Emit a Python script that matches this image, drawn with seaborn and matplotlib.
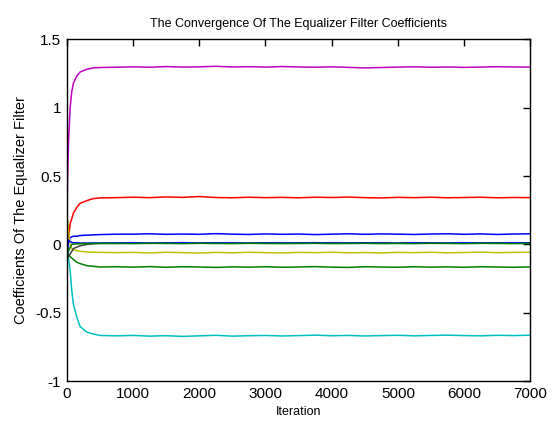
import matplotlib
matplotlib.use("Agg")
import matplotlib.pyplot as plt
import seaborn as sns
import pandas as pd

iterations = [0, 10, 25, 50, 75, 100, 150, 200, 300, 400, 500, 750,
              1000, 1250, 1500, 1750, 2000, 2250, 2500, 2750, 3000, 3250,
              3500, 3750, 4000, 4250, 4500, 4750, 5000, 5250, 5500, 5750,
              6000, 6250, 6500, 6750, 7000]

w_blue1 = [0.0, 0.04, 0.02, 0.05, 0.055, 0.06, 0.06, 0.065, 0.068, 0.07, 0.072, 0.075,
           0.075, 0.078, 0.074, 0.076, 0.074, 0.079, 0.075, 0.073, 0.077, 0.074,
           0.076, 0.072, 0.075, 0.078, 0.074, 0.077, 0.075, 0.073, 0.076, 0.078,
           0.074, 0.077, 0.073, 0.076, 0.078]
w_green1 = [0.0, -0.04, -0.07, -0.09, -0.10, -0.11, -0.13, -0.14, -0.155, -0.16, -0.165, -0.163,
            -0.166, -0.162, -0.167, -0.163, -0.165, -0.168, -0.164, -0.166, -0.163, -0.167,
            -0.165, -0.162, -0.166, -0.168, -0.163, -0.165, -0.167, -0.163, -0.166, -0.164,
            -0.167, -0.163, -0.165, -0.167, -0.164]
w_red = [0.0, 0.12, 0.05, 0.15, 0.19, 0.23, 0.27, 0.30, 0.32, 0.335, 0.34, 0.342,
         0.345, 0.342, 0.347, 0.344, 0.350, 0.343, 0.341, 0.345, 0.342, 0.344,
         0.341, 0.345, 0.343, 0.346, 0.342, 0.340, 0.344, 0.342, 0.345, 0.341,
         0.343, 0.345, 0.341, 0.343, 0.342]
w_cyan = [0.0, -0.05, -0.10, -0.19, -0.34, -0.44, -0.53, -0.60, -0.64, -0.655, -0.665, -0.668,
          -0.665, -0.670, -0.667, -0.672, -0.668, -0.664, -0.670, -0.667, -0.665, -0.669,
          -0.666, -0.663, -0.667, -0.665, -0.669, -0.666, -0.664, -0.668, -0.665, -0.663,
          -0.666, -0.668, -0.664, -0.666, -0.663]
w_magenta = [0.0, 0.45, 0.75, 1.00, 1.12, 1.18, 1.23, 1.26, 1.28, 1.29, 1.293, 1.295,
             1.298, 1.295, 1.300, 1.296, 1.298, 1.302, 1.297, 1.299, 1.296, 1.300,
             1.297, 1.295, 1.298, 1.294, 1.290, 1.293, 1.296, 1.298, 1.295, 1.297,
             1.294, 1.296, 1.299, 1.297, 1.296]
w_yellow = [0.0, 0.18, 0.10, 0.00, -0.03, -0.04, -0.045, -0.05, -0.055, -0.057, -0.058, -0.060,
            -0.058, -0.062, -0.057, -0.060, -0.063, -0.058, -0.061, -0.057, -0.060, -0.062,
            -0.058, -0.060, -0.057, -0.061, -0.059, -0.062, -0.058, -0.060, -0.057, -0.061,
            -0.059, -0.056, -0.060, -0.058, -0.057]
w_dark = [0.0, -0.10, -0.08, -0.07, -0.05, -0.03, -0.02, -0.01, 0.0, 0.005, 0.008, 0.008,
          0.010, 0.008, 0.011, 0.009, 0.010, 0.012, 0.009, 0.010, 0.008, 0.011,
          0.009, 0.010, 0.012, 0.008, 0.010, 0.011, 0.009, 0.012, 0.010, 0.009,
          0.011, 0.010, 0.012, 0.009, 0.010]
w_blue2 = [0.0, -0.06, 0.03, 0.02, 0.015, 0.012, 0.012, 0.010, 0.010, 0.011, 0.010, 0.011,
           0.012, 0.010, 0.011, 0.013, 0.010, 0.012, 0.011, 0.009, 0.012, 0.010,
           0.011, 0.013, 0.010, 0.011, 0.012, 0.010, 0.009, 0.012, 0.011, 0.010,
           0.012, 0.011, 0.010, 0.012, 0.011]
w_green2 = [0.0, -0.02, -0.05, -0.02, 0.0, 0.002, 0.004, 0.005, 0.006, 0.007, 0.007, 0.007,
            0.006, 0.008, 0.007, 0.006, 0.008, 0.007, 0.006, 0.008, 0.007, 0.006,
            0.007, 0.008, 0.006, 0.007, 0.008, 0.006, 0.007, 0.006, 0.008, 0.007,
            0.006, 0.008, 0.007, 0.006, 0.007]

series_names = ["w1", "w2", "w3", "w4", "w5", "w6", "w7", "w8", "w9"]
series_values = [w_blue1, w_green1, w_red, w_cyan, w_magenta, w_yellow, w_dark, w_blue2, w_green2]
series_colors = ["#0000ff", "#008000", "#ff0000", "#00bfbf", "#bf00bf", "#bfbf00",
                 "#404040", "#0000ff", "#008000"]

rows = []
for name, vals in zip(series_names, series_values):
    for it, v in zip(iterations, vals):
        rows.append({"Iteration": it, "Coefficient": v, "Tap": name})
df = pd.DataFrame(rows)

sns.set_style("white")
plt.rcParams["font.family"] = ["Liberation Sans", "DejaVu Sans"]
plt.rcParams["text.color"] = "black"
plt.rcParams["axes.labelcolor"] = "black"
plt.rcParams["xtick.color"] = "black"
plt.rcParams["ytick.color"] = "black"

fig = plt.figure(figsize=(5.57, 4.26), dpi=100)
ax = fig.add_axes([0.120, 0.105, 0.832, 0.803])

sns.lineplot(data=df, x="Iteration", y="Coefficient", hue="Tap",
             palette=dict(zip(series_names, series_colors)),
             hue_order=series_names, legend=False, linewidth=1.1, ax=ax)

ax.set_xlim(0, 7000)
ax.set_ylim(-1, 1.5)
ax.set_xticks(range(0, 7001, 1000))
ax.set_yticks([-1, -0.5, 0, 0.5, 1, 1.5])
ax.set_yticklabels(["-1", "-0.5", "0", "0.5", "1", "1.5"])
ax.tick_params(direction="in", top=True, right=True, length=5, width=1, color="black",
               labelsize=11, pad=4, labelcolor="black")
for s in ax.spines.values():
    s.set_color("black")
    s.set_linewidth(1.0)

ax.set_title("The Convergence Of The Equalizer Filter Coefficients",
             fontsize=9, pad=9, color="black")
ax.set_xlabel("Iteration", fontsize=9, labelpad=4)
ax.set_ylabel("Coefficients Of The Equalizer Filter", fontsize=10.5, labelpad=5)

fig.savefig("out.png", dpi=100, facecolor="white")
